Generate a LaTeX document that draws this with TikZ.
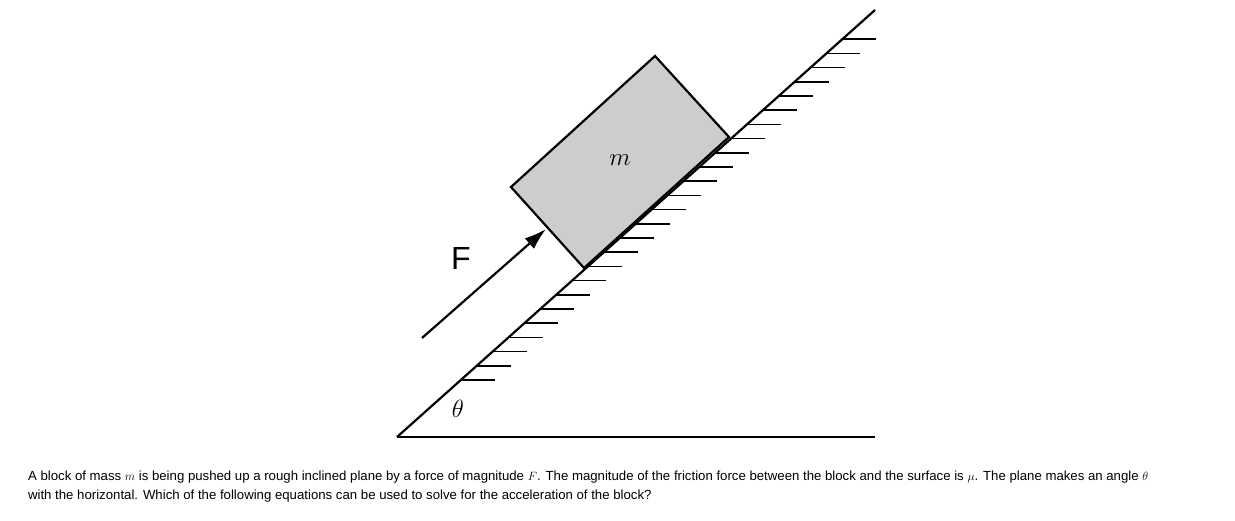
\documentclass[tikz,border=0pt]{standalone}
\usepackage{fontspec}
\setmainfont{Liberation Sans}
\usetikzlibrary{arrows.meta}
\definecolor{blockgray}{RGB}{204,205,207}
\begin{document}
\begin{tikzpicture}[x=1pt,y=-1pt,line width=2.2pt,
  hatch/.style={line width=1.6pt}]
\useasboundingbox (0,0) rectangle (1235,520);
\coordinate (A) at (397,437);
\coordinate (T) at (875,10);
\coordinate (H) at (875,437);
\draw (A) -- (T);
\draw (A) -- (H);
\foreach \y in {380,365.8,...,35} {
  \pgfmathsetmacro\xx{397+(437-\y)*1.11944}
  \draw[hatch] (\xx,\y) -- (\xx+34,\y);
}
\draw[fill=blockgray] (511,187) coordinate (b1) -- (655,56) coordinate (b2) -- (729,137) coordinate (b3) -- (584,268) coordinate (b4) -- cycle;
\node[font=\fontsize{32}{36}\selectfont] (m) at (620,160) {$m$};
\coordinate (f1) at (422,338);
\coordinate (f2) at (546,229);
\draw[-{Latex[length=22pt,width=14pt]}] (f1) -- (f2);
\node[font=\fontsize{32}{36}\selectfont] (F) at (461,258) {F};
\node[font=\fontsize{30}{36}\selectfont] (th) at (458,409) {$\theta$};
\node[anchor=north west,align=left,inner sep=0pt,font=\fontsize{13.2}{19}\selectfont] (txt) at (27,470) {A block of mass $m$ is being pushed up a rough inclined plane by a force of magnitude $F$. The magnitude of the friction force between the block and the surface is $\mu$. The plane makes an angle $\theta$\\with the horizontal. Which of the following equations can be used to solve for the acceleration of the block?};
\end{tikzpicture}
\end{document}
